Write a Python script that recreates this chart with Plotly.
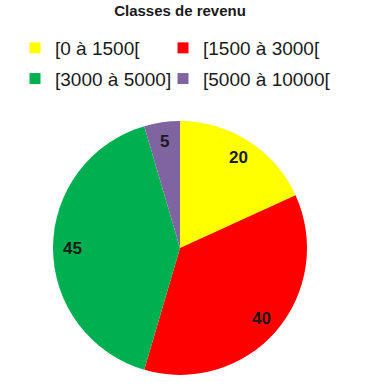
import math
import plotly.graph_objects as go

labels = ["[0 à 1500[", "[1500 à 3000[", "[3000 à 5000]", "[5000 à 10000["]
values = [20, 40, 45, 5]
colors = ["#FFFF00", "#FF0000", "#00B050", "#8064A2"]
title = "Classes de revenu"

W, H = 377, 390
cx, cy, R = 180, 248, 127  # pie centre/radius in pixels

dom_x = [(cx - R) / W, (cx + R) / W]
dom_y = [1 - (cy + R) / H, 1 - (cy - R) / H]

fig = go.Figure(go.Pie(
    labels=labels, values=values, sort=False, direction="clockwise", rotation=0,
    marker=dict(colors=colors, line=dict(width=0)),
    textinfo="none", hoverinfo="label+value",
    domain=dict(x=dom_x, y=dom_y), showlegend=False,
))

# legend entries (two columns, as in the reference layout)
for i, (lab, col) in enumerate(zip(labels, colors)):
    fig.add_trace(go.Scatter(
        x=[None], y=[None], mode="markers", name=lab,
        marker=dict(symbol="square", size=11, color=col),
        legend="legend" if i % 2 == 0 else "legend2",
        legendgroup=f"g{i}",
        hoverinfo="skip",
    ))

# value labels placed along each slice's mid-angle
total = sum(values)
cum = 0
annotations = []
for v in values:
    mid = (cum + v / 2) / total * 2 * math.pi
    cum += v
    r = 0.85 * R
    px = cx + r * math.sin(mid)
    py = cy - r * math.cos(mid)
    annotations.append(dict(
        x=px / W, y=1 - py / H, xref="paper", yref="paper",
        text=f"<b>{v}</b>", showarrow=False,
        font=dict(family="Liberation Sans", size=17, color="#1a1a1a"),
        xanchor="center", yanchor="middle",
    ))

legend_font = dict(family="Liberation Sans", size=19, color="#1a1a1a")
fig.update_layout(
    width=W, height=H,
    margin=dict(l=0, r=0, t=0, b=0),
    paper_bgcolor="white", plot_bgcolor="white",
    xaxis=dict(visible=False), yaxis=dict(visible=False),
    title=dict(text=f"<b>{title}</b>", x=180 / W, xanchor="center",
               y=1 - 11 / H, yanchor="middle",
               font=dict(family="Liberation Sans", size=15, color="#1a1a1a")),
    legend=dict(orientation="v", x=15 / W, xanchor="left", y=1 - 29 / H, yanchor="top",
                bgcolor="rgba(0,0,0,0)", font=legend_font, itemclick=False,
                traceorder="grouped", tracegroupgap=3),
    legend2=dict(orientation="v", x=163 / W, xanchor="left", y=1 - 29 / H, yanchor="top",
                 bgcolor="rgba(0,0,0,0)", font=legend_font, itemclick=False,
                 traceorder="grouped", tracegroupgap=3),
    annotations=annotations,
    showlegend=True,
)

fig.write_html("out.html")
